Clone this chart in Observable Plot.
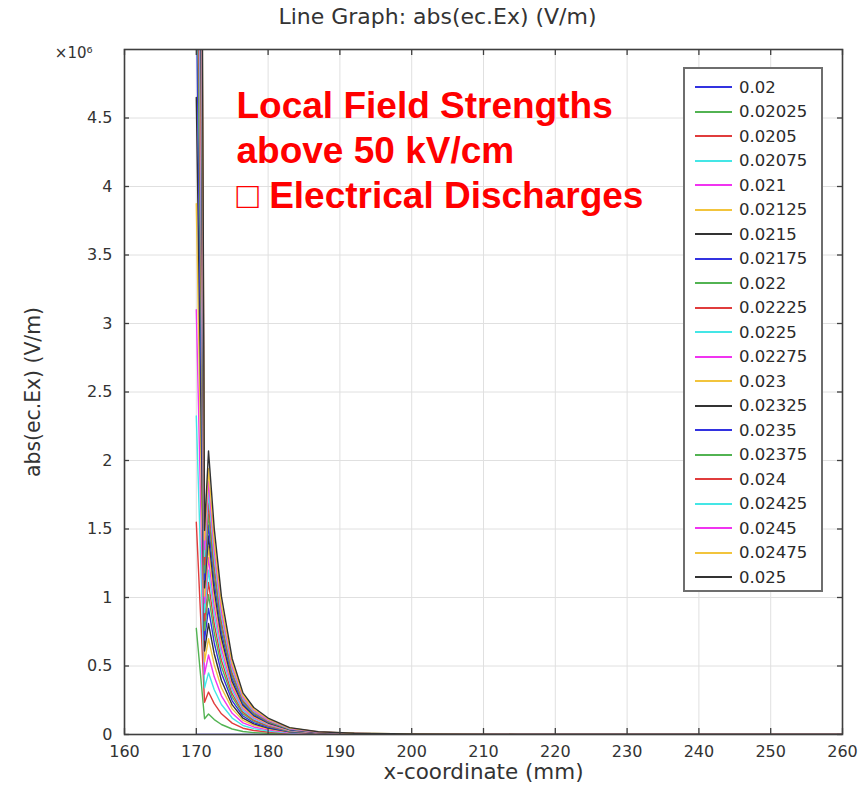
<!DOCTYPE html>
<html><head><meta charset="utf-8">
<script src="https://cdn.jsdelivr.net/npm/d3@7"></script>
<script src="https://cdn.jsdelivr.net/npm/@observablehq/plot@0.6"></script>
<style>
body{margin:0;background:#fff;}
#wrap{position:relative;width:868px;height:785px;}
#legend{position:absolute;left:683px;top:67px;width:140px;height:525px;border:2px solid #6e6e6e;background:#fff;box-sizing:border-box;font-family:"DejaVu Sans",sans-serif;font-size:16.5px;color:#2a2a2a;}
.row{position:absolute;left:10px;height:20px;display:flex;align-items:center;white-space:nowrap;}
.row svg{margin-right:7px;}
</style></head><body><div id="wrap"></div>
<script>
// x-coordinate (mm) sample positions
const xCoord = [170, 171.15, 171.7, 172.5, 173.5, 175, 176.5, 178, 180, 183, 187, 192, 200, 215, 260];
// legend parameter values
const params = ["0.02","0.02025","0.0205","0.02075","0.021","0.02125","0.0215","0.02175","0.022","0.02225","0.0225","0.02275","0.023","0.02325","0.0235","0.02375","0.024","0.02425","0.0245","0.02475","0.025"];
const colorCycle = ["#3232e0","#52b352","#e03c3c","#44e6e6","#f034f0","#f2c43c","#333333"];
const xTicks = [160,170,180,190,200,210,220,230,240,250,260];
const yTicks = [0,0.5,1,1.5,2,2.5,3,3.5,4,4.5];

// abs(ec.Ex) in units of 10^6 V/m, one array per parameter value
const e0200  = [0,0,0,0,0,0,0,0,0,0,0,0,0,0,0];
const e02025 = [0.775,0.115,0.15,0.109,0.073,0.040,0.022,0.014,0.009,0.004,0.001,0.001,0,0,0];
const e0205  = [1.55,0.235,0.31,0.225,0.151,0.083,0.046,0.029,0.018,0.007,0.003,0.001,0.001,0,0];
const e02075 = [2.325,0.34,0.45,0.327,0.219,0.120,0.066,0.043,0.026,0.011,0.004,0.002,0.001,0,0];
const e0210  = [3.10,0.44,0.58,0.421,0.282,0.155,0.085,0.055,0.034,0.014,0.006,0.003,0.001,0,0];
const e02125 = [3.875,0.53,0.70,0.508,0.341,0.187,0.103,0.067,0.041,0.017,0.007,0.003,0.001,0,0];
const e0215  = [4.65,0.61,0.81,0.588,0.394,0.216,0.119,0.077,0.047,0.019,0.008,0.004,0.002,0,0];
const e02175 = [5.425,0.69,0.92,0.668,0.448,0.246,0.135,0.087,0.053,0.022,0.009,0.004,0.002,0,0];
const e0220  = [6.20,0.76,1.02,0.741,0.497,0.272,0.150,0.097,0.059,0.024,0.010,0.005,0.002,0.001,0];
const e02225 = [6.975,0.83,1.11,0.806,0.541,0.296,0.163,0.105,0.064,0.027,0.011,0.005,0.002,0.001,0];
const e0225  = [7.75,0.89,1.20,0.871,0.584,0.320,0.176,0.114,0.070,0.029,0.012,0.005,0.002,0.001,0];
const e02275 = [8.525,0.96,1.29,0.937,0.628,0.344,0.190,0.123,0.075,0.031,0.013,0.006,0.003,0.001,0];
const e0230  = [9.30,1.01,1.37,0.995,0.667,0.366,0.201,0.130,0.079,0.033,0.013,0.006,0.003,0.001,0];
const e02325 = [10.075,1.07,1.45,1.053,0.706,0.387,0.213,0.138,0.084,0.035,0.014,0.007,0.003,0.001,0];
const e0235  = [10.85,1.13,1.53,1.111,0.745,0.409,0.225,0.145,0.089,0.037,0.015,0.007,0.003,0.001,0];
const e02375 = [11.625,1.18,1.61,1.169,0.784,0.430,0.237,0.153,0.093,0.039,0.016,0.007,0.003,0.001,0];
const e0240  = [12.40,1.24,1.69,1.227,0.823,0.451,0.248,0.161,0.098,0.041,0.016,0.008,0.003,0.001,0];
const e02425 = [13.175,1.30,1.77,1.285,0.862,0.473,0.260,0.168,0.103,0.042,0.017,0.008,0.004,0.001,0];
const e0245  = [13.95,1.35,1.85,1.343,0.901,0.494,0.272,0.176,0.107,0.044,0.018,0.008,0.004,0.001,0];
const e02475 = [14.725,1.42,1.94,1.408,0.945,0.518,0.285,0.184,0.113,0.047,0.019,0.009,0.004,0.001,0];
const e0250  = [15.50,1.49,2.07,1.503,1.008,0.553,0.304,0.197,0.120,0.050,0.020,0.009,0.004,0.001,0];

const seriesList = [e0200,e02025,e0205,e02075,e0210,e02125,e0215,e02175,e0220,e02225,e0225,e02275,e0230,e02325,e0235,e02375,e0240,e02425,e0245,e02475,e0250];
const colors = params.map((p,i) => colorCycle[i % colorCycle.length]);

const rows = [];
seriesList.forEach((arr,i) => arr.forEach((v,j) => rows.push({x: xCoord[j], v, p: params[i]})));

const W = 868, H = 785, mL = 124, mR = 26, mT = 49, mB = 51;
const pw = W - mL - mR, ph = H - mT - mB;
const cond = "'DejaVu Sans Condensed', 'DejaVu Sans', sans-serif";
const frameCol = "#3f3f3f";
const titleText = "Line Graph: abs(ec.Ex) (V/m)";
const xLabel = "x-coordinate (mm)";
const yLabel = "abs(ec.Ex) (V/m)";

const chart = Plot.plot({
  width: W, height: H,
  marginLeft: mL, marginRight: mR, marginTop: mT, marginBottom: mB,
  x: {domain: [160, 260]},
  y: {domain: [0, 5]},
  color: {domain: params, range: colors},
  style: {fontFamily: "'DejaVu Sans', sans-serif", fontSize: "16px", color: "#333", background: "white"},
  marks: [
    Plot.gridX(xTicks, {stroke: "#e0e0e0", strokeOpacity: 1}),
    Plot.gridY(yTicks, {stroke: "#e0e0e0", strokeOpacity: 1}),
    Plot.line(rows, {x: "x", y: "v", z: "p", stroke: "p", strokeWidth: 1.4, clip: true}),
    Plot.frame({stroke: frameCol, strokeWidth: 1.6}),
    Plot.tickX(xTicks, {x: d => d, insetTop: ph - 6, stroke: frameCol, strokeWidth: 1.3}),
    Plot.tickX(xTicks, {x: d => d, insetBottom: ph - 6, stroke: frameCol, strokeWidth: 1.3}),
    Plot.tickY(yTicks, {y: d => d, insetRight: pw - 5, stroke: frameCol, strokeWidth: 1.3}),
    Plot.tickY(yTicks, {y: d => d, insetLeft: pw - 5, stroke: frameCol, strokeWidth: 1.3}),
    Plot.axisX(xTicks, {anchor: "bottom", tickSize: 0, tickPadding: 11, label: null, fontSize: 16}),
    Plot.axisY(yTicks, {anchor: "left", tickSize: 0, tickPadding: 12, label: null, fontSize: 16, tickFormat: d => String(d)}),
    Plot.text(["×10⁶"], {frameAnchor: "top-left", dx: -32, dy: 8, textAnchor: "end", lineAnchor: "bottom", fontSize: 15, fill: "#333"}),
    Plot.text([titleText], {frameAnchor: "top-left", dx: 313, dy: -26, textAnchor: "middle", lineAnchor: "bottom", fontSize: 21, fontFamily: cond, fill: "#333"}),
    Plot.text([xLabel], {frameAnchor: "bottom", dy: 38, textAnchor: "middle", lineAnchor: "middle", fontSize: 21, fontFamily: cond, fill: "#333"}),
    Plot.text([yLabel], {frameAnchor: "left", dx: -91, rotate: -90, textAnchor: "middle", lineAnchor: "middle", fontSize: 21, fontFamily: cond, fill: "#333"}),
    Plot.text(["Local Field Strengths\nabove 50 kV/cm\n□ Electrical Discharges"], {frameAnchor: "top-left", dx: 112, dy: 36, textAnchor: "start", lineAnchor: "top", lineHeight: 1.22, fontSize: 37, fontWeight: "bold", fontFamily: "'Liberation Sans', Arial, sans-serif", fill: "#ff0000"})
  ]
});

const wrap = document.getElementById("wrap");
wrap.appendChild(chart);

// fit the condensed-looking label texts to the reference widths
const fitText = (txt, len) => d3.select(chart).selectAll("text")
  .filter(function() { return this.textContent === txt; })
  .attr("textLength", len).attr("lengthAdjust", "spacingAndGlyphs").style("font-stretch", "condensed");
fitText(titleText, 318);
fitText(xLabel, 200);
fitText(yLabel, 170);

const legend = document.createElement("div");
legend.id = "legend";
params.forEach((p, i) => {
  const row = document.createElement("div");
  row.className = "row";
  row.style.top = (8 + 24.5 * i) + "px";
  row.innerHTML = `<svg width="37" height="4"><line x1="0" y1="2" x2="37" y2="2" stroke="${colors[i]}" stroke-width="2"/></svg><span>${p}</span>`;
  legend.appendChild(row);
});
wrap.appendChild(legend);
</script>
</body></html>
